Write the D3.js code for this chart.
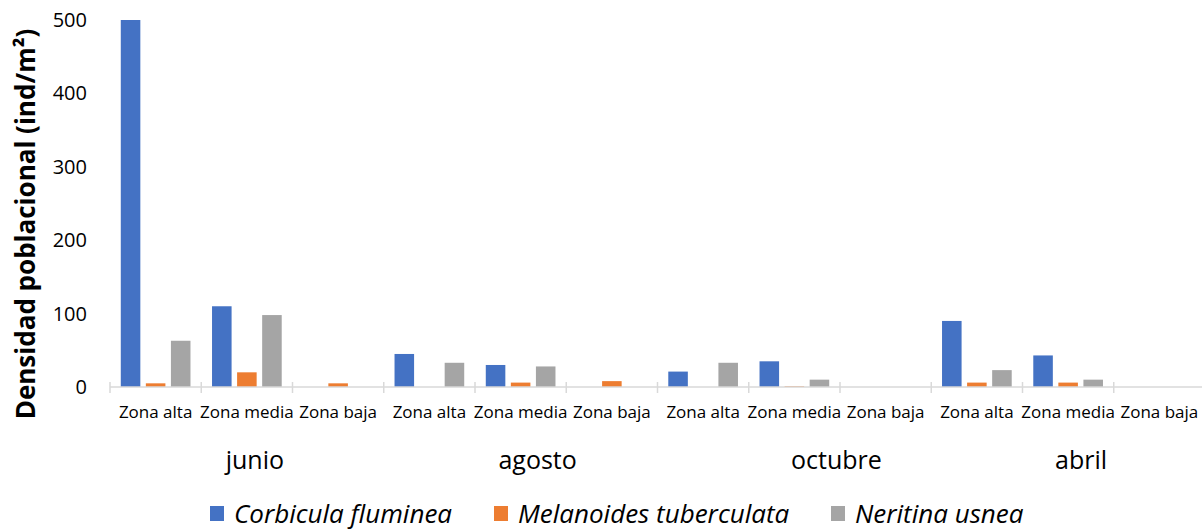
<!DOCTYPE html>
<html>
<head>
<meta charset="utf-8">
<script src="https://cdn.jsdelivr.net/npm/d3@7"></script>
<style>
  body { margin: 0; background: #fff; }
  text { font-family: "Open Sans", "Noto Sans", sans-serif; fill: #000; }
</style>
</head>
<body>
<svg id="chart" width="1202" height="531"></svg>
<script>
const months = ["junio", "agosto", "octubre", "abril"]
const zones = ["Zona alta", "Zona media", "Zona baja"]
const species = ["Corbicula fluminea", "Melanoides tuberculata", "Neritina usnea"]
const colors = ["#4472C4", "#ED7D31", "#A5A5A5"]
const yTicks = [0, 100, 200, 300, 400, 500]

// values per month, per zone: [Corbicula, Melanoides, Neritina]
const corbicula = [500, 110, 0, 45, 30, 0, 21, 35, 0, 90, 43, 0]
const melanoides = [5, 20, 5, 0, 6, 8, 0, 1, 0, 6, 6, 0]
const neritina = [63, 98, 0, 33, 28, 0, 33, 10, 0, 23, 10, 0]
const seriesValues = [corbicula, melanoides, neritina]

// month label nudges as laid out in the original
const monthNudge = [8, 17, 42, 13]

const margin = { left: 110, right: -3, top: 20, bottom: 144 }
const width = 1202, height = 531

const svg = d3.select('#chart')

const cats = months.flatMap(m => zones.map(z => m + '|' + z))

const x = d3.scaleBand()
    .domain(cats)
    .range([margin.left, width - margin.right])

const xInner = d3.scaleBand()
    .domain(species)
    .range([0, x.bandwidth()])
    .paddingInner(0.22)
    .paddingOuter(0.43)

const y = d3.scaleLinear()
    .domain([0, 500])
    .range([height - margin.bottom, margin.top])

// y tick labels
svg.append('g')
    .selectAll('text')
    .data(yTicks)
    .join('text')
    .attr('x', 87)
    .attr('y', d => y(d))
    .attr('dy', '0.35em')
    .attr('text-anchor', 'end')
    .style('font-size', '20px')
    .text(d => d)

// bars
const rows = []
cats.forEach((c, i) => {
    species.forEach((s, j) => {
        rows.push({ cat: c, sp: s, value: seriesValues[j][i], color: colors[j] })
    })
})

svg.append('g')
    .selectAll('rect')
    .data(rows.filter(d => d.value > 0))
    .join('rect')
    .attr('x', d => x(d.cat) + xInner(d.sp))
    .attr('width', xInner.bandwidth())
    .attr('y', d => y(d.value))
    .attr('height', d => y(0) - y(d.value))
    .attr('fill', d => d.color)

// x axis line and ticks
const axisG = svg.append('g').attr('stroke', '#d9d9d9').attr('stroke-width', 1.5)
axisG.append('line')
    .attr('x1', margin.left).attr('x2', width)
    .attr('y1', y(0)).attr('y2', y(0))
axisG.selectAll('.tick')
    .data(cats)
    .join('line')
    .attr('x1', d => x(d)).attr('x2', d => x(d))
    .attr('y1', y(0) - 5).attr('y2', y(0) + 6)

// zone labels
svg.append('g')
    .selectAll('text')
    .data(cats)
    .join('text')
    .attr('x', d => x(d) + x.bandwidth() / 2)
    .attr('y', 418)
    .attr('text-anchor', 'middle')
    .style('font-size', '17px')
    .text(d => d.split('|')[1])

// month labels
svg.append('g')
    .selectAll('text')
    .data(months)
    .join('text')
    .attr('x', (d, i) => x(d + '|' + zones[0]) + x.bandwidth() * 1.5 + monthNudge[i])
    .attr('y', 469)
    .attr('text-anchor', 'middle')
    .style('font-size', '25px')
    .text(d => d)

// y title
svg.append('text')
    .attr('transform', 'translate(35,' + 224 + ') rotate(-90)')
    .attr('text-anchor', 'middle')
    .style('font-size', '26px')
    .style('font-weight', 'bold')
    .text('Densidad poblacional (ind/m²)')

// legend
const legendX = [210, 494, 831]
const legend = svg.append('g')
    .selectAll('g')
    .data(species)
    .join('g')
    .attr('transform', (d, i) => `translate(${legendX[i]},506)`)
legend.append('rect')
    .attr('width', 14).attr('height', 15)
    .attr('fill', (d, i) => colors[i])
legend.append('text')
    .attr('x', 24)
    .attr('y', 17)
    .style('font-size', '26px')
    .style('font-style', 'italic')
    .text(d => d)
</script>
</body>
</html>
